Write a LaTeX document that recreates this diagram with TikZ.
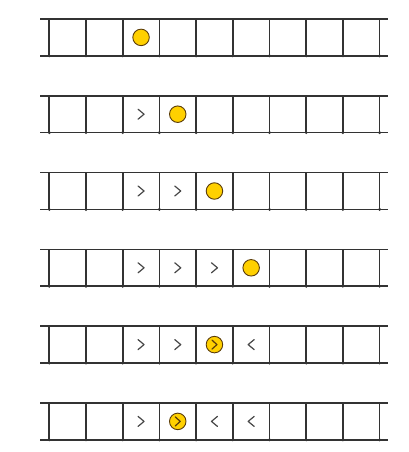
\documentclass[tikz,border=0pt]{standalone}
\definecolor{ballfill}{RGB}{255,208,0}
\definecolor{ballline}{RGB}{90,60,10}
\begin{document}
\begin{tikzpicture}[x=1pt,y=-1pt,
  rail/.style={line width=1.7pt,draw=black!80},
  rung/.style={line width=1.7pt,draw=black!80},
  ball/.style={circle,minimum size=16.5pt,inner sep=0pt,fill=ballfill,draw=ballline,line width=0.9pt},
  chev/.style={line width=1.2pt,draw=black!72,line cap=round,line join=round},
  chevin/.style={line width=1.2pt,draw=ballline,line cap=round,line join=round},
  pics/chevR/.style={code={\draw[chev] (-3,-5) -- (3,0) -- (-3,5);}},
  pics/chevL/.style={code={\draw[chev] (3,-5) -- (-3,0) -- (3,5);}},
  pics/chevRin/.style={code={\draw[chevin] (-2.5,-4.5) -- (2.5,0) -- (-2.5,4.5);}}
]
\useasboundingbox (0,0) rectangle (408,452);
\def\cw{36.7}
\def\xo{49.3}
\foreach \r/\content in {0/{2/o},1/{2/R,3/o},2/{2/R,3/R,4/o},3/{2/R,3/R,4/R,5/o},4/{2/R,3/R,4/O,5/L},5/{2/R,3/O,4/L,5/L}}{
  \pgfmathsetmacro{\yt}{19+76.8*\r}
  \pgfmathsetmacro{\yb}{\yt+36.8}
  \pgfmathsetmacro{\ym}{\yt+18.4}
  \draw[rail] (40,\yt) -- (388,\yt);
  \draw[rail] (40,\yb) -- (388,\yb);
  \foreach \k in {0,...,9}{
    \pgfmathsetmacro{\xx}{\xo+\cw*\k}
    \draw[rung] (\xx,\yt) -- (\xx,\yb);
    \fill[black!80] (\xx,\yb) circle (1.6pt);
  }
  \foreach \c/\t in \content {
    \pgfmathsetmacro{\xc}{\xo+\cw*\c+\cw/2}
    \if\t R \pic at (\xc,\ym) {chevR};\fi
    \if\t L \pic at (\xc,\ym) {chevL};\fi
    \if\t o \node[ball] (b\r) at (\xc,\ym) {};\fi
    \if\t O \node[ball] (b\r) at (\xc,\ym) {}; \pic at (\xc,\ym) {chevRin};\fi
  }
}
\end{tikzpicture}
\end{document}
